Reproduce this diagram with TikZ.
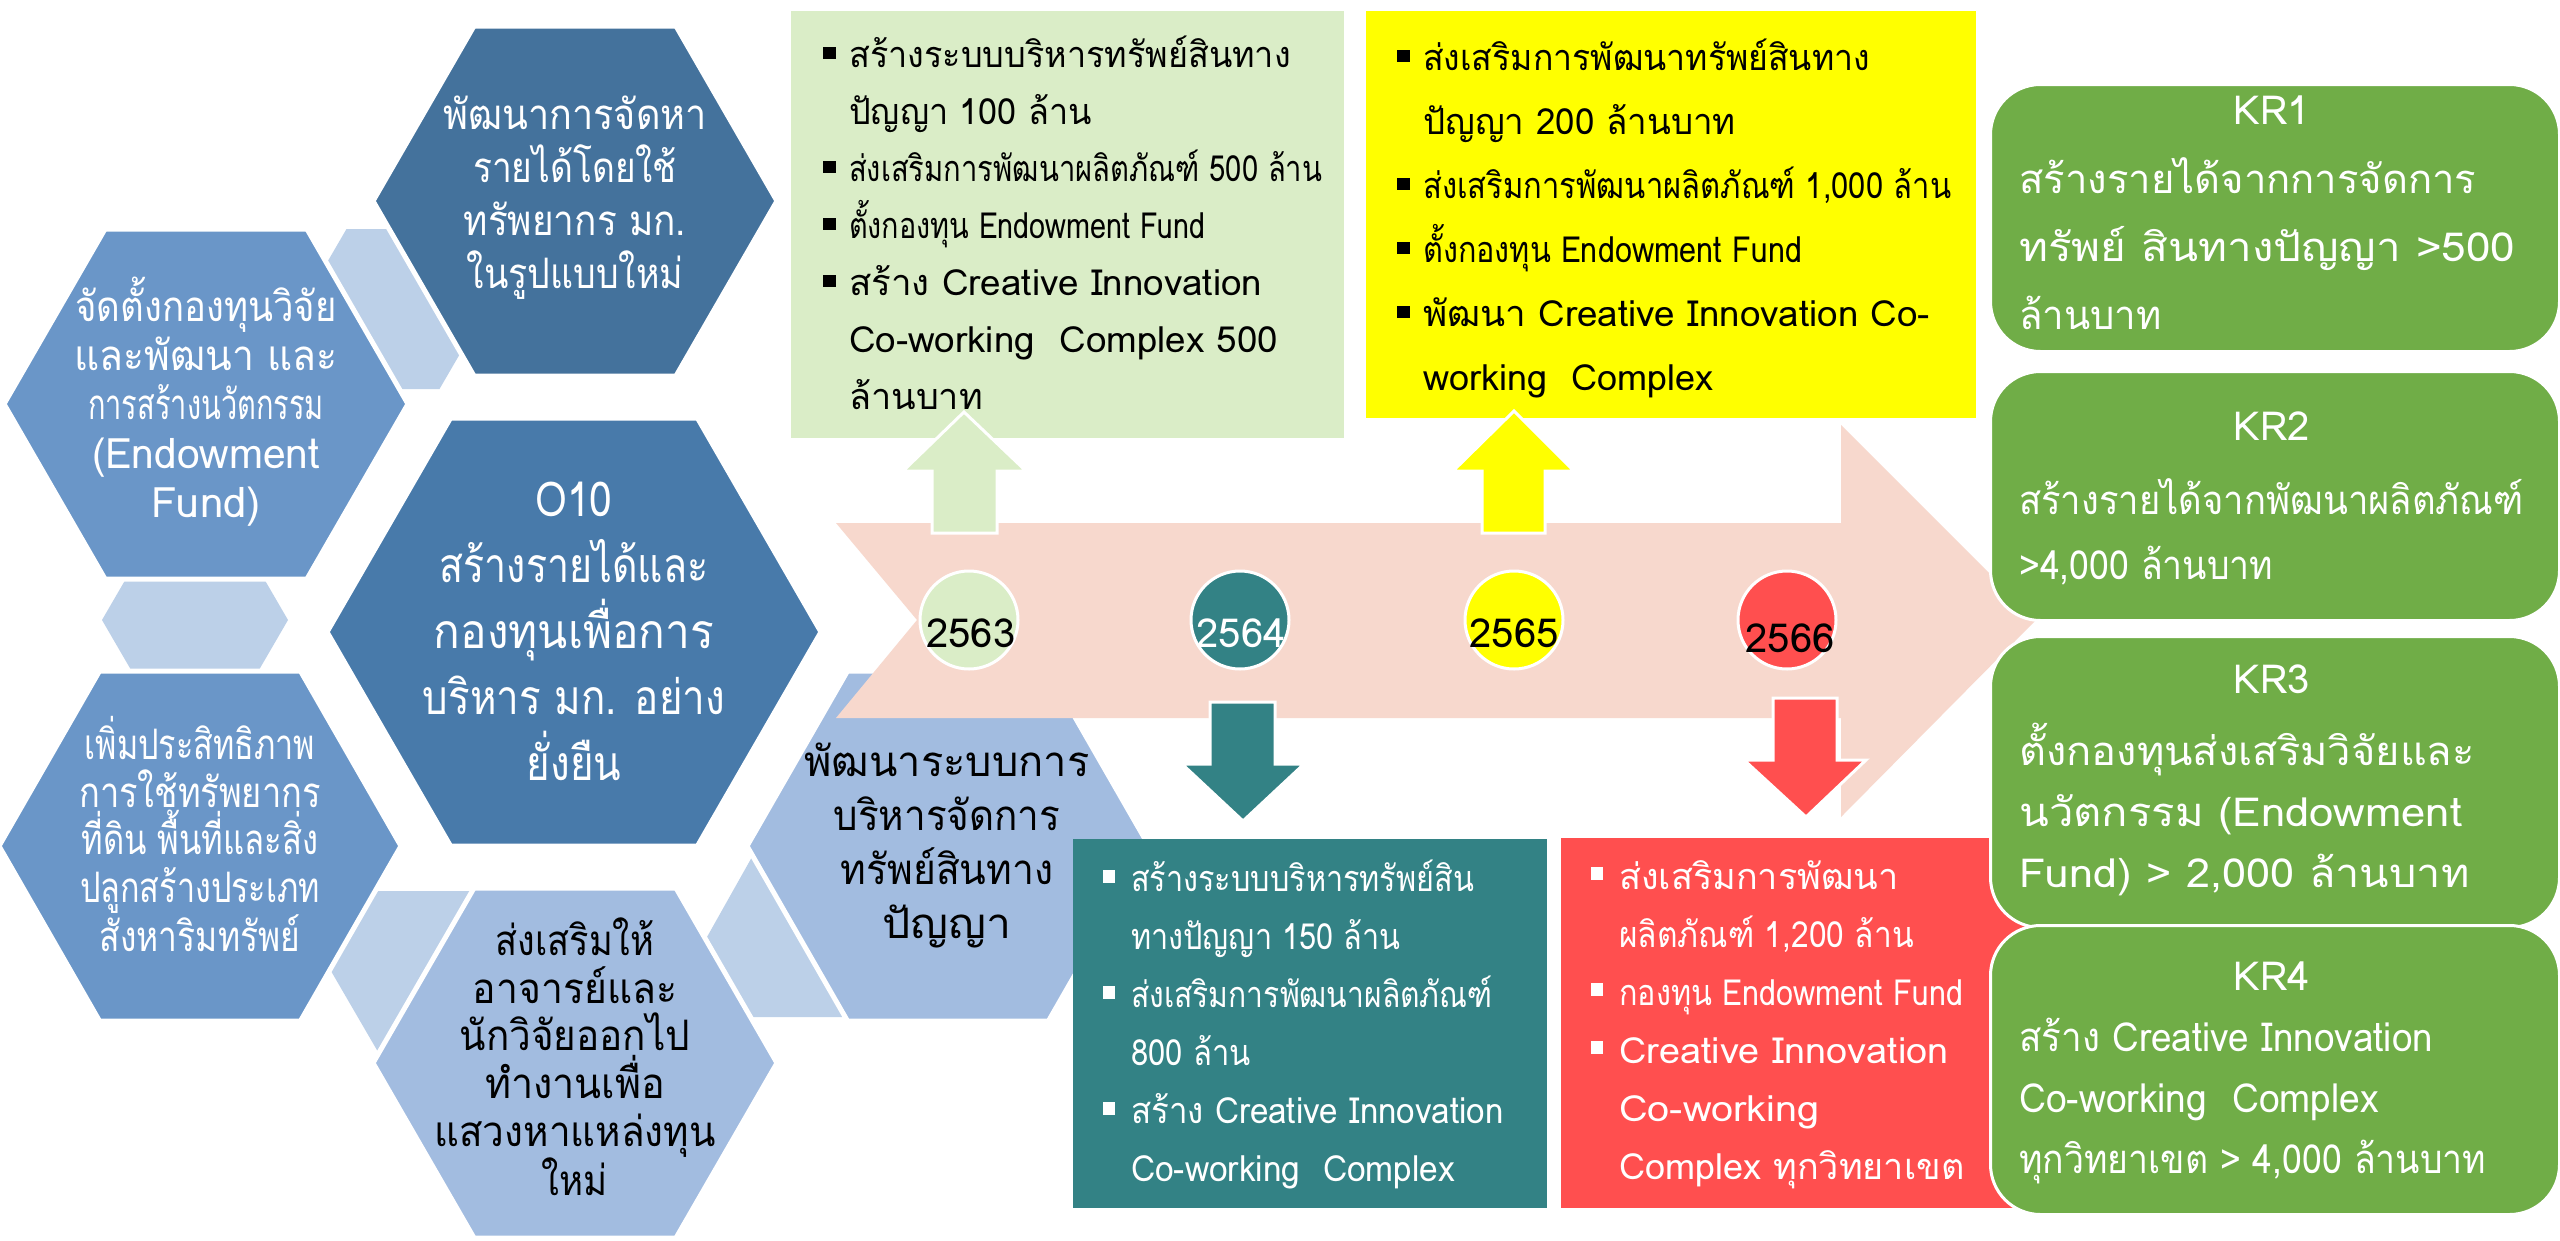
\documentclass[tikz,border=0pt]{standalone}
\usepackage{fontspec}
\usepackage{graphicx}
\newfontfamily\thai[Script=Thai]{Loma}
\definecolor{hexdark}{RGB}{68,114,156}
\definecolor{hexoten}{RGB}{72,122,170}
\definecolor{hexmid}{RGB}{106,150,200}
\definecolor{hexlight}{RGB}{162,188,224}
\definecolor{hexpale}{RGB}{188,208,232}
\definecolor{pinkarrow}{RGB}{247,216,205}
\definecolor{palegreen}{RGB}{218,237,199}
\definecolor{yel}{RGB}{255,255,0}
\definecolor{tealc}{RGB}{51,130,133}
\definecolor{redc}{RGB}{255,79,79}
\definecolor{krgreen}{RGB}{112,173,71}
\newcommand{\myhex}[5]{\filldraw[#5] ({#1-#3},#2) -- ({#1-#3/2},{#2-#4}) -- ({#1+#3/2},{#2-#4}) -- ({#1+#3},#2) -- ({#1+#3/2},{#2+#4}) -- ({#1-#3/2},{#2+#4}) -- cycle;}
\newcommand{\blt}{\llap{\rule[9pt]{13pt}{12pt}\hspace{13pt}}}
\newcommand{\bltw}{\llap{\textcolor{white}{\rule[9pt]{12pt}{13pt}}\hspace{16pt}}}
\newcommand{\sx}[2]{\scalebox{#1}[1]{#2}}
\tikzset{
  mainhex/.style={draw=white, line width=5pt, line join=miter},
  palehex/.style={fill=hexpale, draw=none},
  hextext/.style={align=center, inner sep=0pt},
  boxtext/.style={align=left, inner sep=0pt, anchor=north west},
  blockarrow/.style={draw=white, line width=3pt, line join=miter},
  yearcircle/.style={circle, minimum size=98pt, draw=white, line width=3pt, inner sep=0pt},
  yeartext/.style={inner sep=0pt, font=\thai\fontsize{40}{44}\selectfont},
  krbox/.style={rectangle, rounded corners=50pt, draw=white, line width=3pt, fill=krgreen, inner sep=0pt, anchor=north west},
  krlabel/.style={inner sep=0pt, text=white, font=\thai\fontsize{40}{48}\selectfont},
  krtext/.style={align=left, inner sep=0pt, anchor=north west, text=white},
}
\begin{document}
\begin{tikzpicture}[x=1pt,y=-1pt]
\useasboundingbox[fill=white] (0,0) rectangle (2560,1240);
% pale connector hexagons
\myhex{393}{309}{93}{80}{palehex}
\myhex{195}{620}{93}{80}{palehex}
\myhex{424}{971}{93}{80}{palehex}
\myhex{797}{937}{90}{80}{palehex}
% main hexagons
\myhex{575}{201}{202}{175}{mainhex, fill=hexdark}
\myhex{206}{404}{202}{175}{mainhex, fill=hexmid}
\myhex{574}{632}{247}{214}{mainhex, fill=hexoten}
\myhex{200}{846}{201}{175}{mainhex, fill=hexmid}
\myhex{575}{1063}{202}{175}{mainhex, fill=hexlight}
\myhex{948}{846}{201}{175}{mainhex, fill=hexlight}
% hexagon texts
\node[hextext, text=white, font=\thai\fontsize{42}{53}\selectfont] (tT) at (575,198) {\sx{0.9}{พัฒนาการจัดหา}\\\sx{0.84}{รายได้โดยใช้}\\\sx{0.88}{ทรัพยากร มก.}\\\sx{0.85}{ในรูปแบบใหม่}};
\node[hextext, text=white, font=\thai\fontsize{42}{49}\selectfont] (tL) at (206,402) {\sx{0.87}{จัดตั้งกองทุนวิจัย}\\\sx{0.93}{และพัฒนา และ}\\\sx{0.69}{การสร้างนวัตกรรม}\\\sx{0.97}{(Endowment}\\Fund)};
\node[hextext, text=white, font=\thai\fontsize{48}{66}\selectfont] (tO) at (574,631) {\sx{0.85}{O10}\\\sx{0.82}{สร้างรายได้และ}\\\sx{0.92}{กองทุนเพื่อการ}\\\sx{0.84}{บริหาร มก. อย่าง}\\\sx{0.84}{ยั่งยืน}};
\node[hextext, text=white, font=\thai\fontsize{42}{47.5}\selectfont] (tBL) at (200,834) {\sx{0.77}{เพิ่มประสิทธิภาพ}\\\sx{0.82}{การใช้ทรัพยากร}\\\sx{0.78}{ที่ดิน พื้นที่และสิ่ง}\\\sx{0.77}{ปลูกสร้างประเภท}\\\sx{0.8}{สังหาริมทรัพย์}};
\node[hextext, text=black, font=\thai\fontsize{42}{47.6}\selectfont] (tBC) at (575,1057) {\sx{0.86}{ส่งเสริมให้}\\\sx{0.93}{อาจารย์และ}\\\sx{0.92}{นักวิจัยออกไป}\\\sx{0.94}{ทำงานเพื่อ}\\\sx{0.92}{แสวงหาแหล่งทุน}\\\sx{0.87}{ใหม่}};
% pink timeline arrow
\fill[pinkarrow] (836,523) -- (1841,523) -- (1841,425) -- (2036,620) -- (1841,817) -- (1841,718) -- (836,718) -- (917,620) -- cycle;
% right hex text
\node[hextext, text=black, font=\thai\fontsize{42}{54}\selectfont] (tR) at (947,845) {\sx{0.99}{พัฒนาระบบการ}\\\sx{0.92}{บริหารจัดการ}\\\sx{0.93}{ทรัพย์สินทาง}\\\sx{1.06}{ปัญญา}};
% top boxes
\node[rectangle, fill=palegreen, minimum width=553pt, minimum height=427pt, inner sep=0pt, anchor=north west] (bx1) at (791,11) {};
\node[rectangle, fill=yel, minimum width=610pt, minimum height=407pt, inner sep=0pt, anchor=north west] (bx3) at (1366,11) {};
\node[boxtext, font=\thai\fontsize{36}{57}\selectfont] (tx1) at (849,36) {\blt\sx{0.95}{สร้างระบบบริหารทรัพย์สินทาง}\\\sx{0.95}{ปัญญา 100 ล้าน}\\\blt\sx{0.81}{ส่งเสริมการพัฒนาผลิตภัณฑ์ 500 ล้าน}\\\blt\sx{0.8}{ตั้งกองทุน Endowment Fund}\\\blt\sx{1.02}{สร้าง Creative Innovation}\\\sx{1.02}{Co-working\ \ Complex 500}\\ล้านบาท};
\node[boxtext, font=\thai\fontsize{36}{64}\selectfont] (tx3) at (1423,39) {\blt\sx{0.94}{ส่งเสริมการพัฒนาทรัพย์สินทาง}\\\sx{0.97}{ปัญญา 200 ล้านบาท}\\\blt\sx{0.86}{ส่งเสริมการพัฒนาผลิตภัณฑ์ 1,000 ล้าน}\\\blt\sx{0.85}{ตั้งกองทุน Endowment Fund}\\\blt\sx{1.02}{พัฒนา Creative Innovation Co-}\\working\ \ Complex};
% bottom boxes
\node[rectangle, fill=tealc, minimum width=474pt, minimum height=369pt, inner sep=0pt, anchor=north west] (bx2) at (1073,839) {};
\node[rectangle, fill=redc, minimum width=465pt, minimum height=370pt, inner sep=0pt, anchor=north west] (bx4) at (1561,838) {};
\node[boxtext, text=white, font=\thai\fontsize{36}{58}\selectfont] (tx2) at (1131,860) {\bltw\sx{0.85}{สร้างระบบบริหารทรัพย์สิน}\\\sx{0.85}{ทางปัญญา 150 ล้าน}\\\bltw\sx{0.835}{ส่งเสริมการพัฒนาผลิตภัณฑ์}\\\sx{0.86}{800 ล้าน}\\\bltw\sx{0.92}{สร้าง Creative Innovation}\\\sx{0.93}{Co-working\ \ Complex}};
\node[boxtext, text=white, font=\thai\fontsize{36}{58}\selectfont] (tx4) at (1619,860) {\bltw\sx{1.0}{ส่งเสริมการพัฒนา}\\\sx{0.88}{ผลิตภัณฑ์ 1,200 ล้าน}\\\bltw\sx{0.85}{กองทุน Endowment Fund}\\\bltw\sx{1.05}{Creative Innovation}\\\sx{1.1}{Co-working}\\Complex ทุกวิทยาเขต};
% block arrows
\filldraw[blockarrow, fill=palegreen] (932,533) -- (932,471) -- (903,471) -- (964,412) -- (1026,471) -- (997,471) -- (997,533) -- cycle;
\filldraw[blockarrow, fill=yel] (1482,533) -- (1482,471) -- (1453,471) -- (1514,411) -- (1574,471) -- (1545,471) -- (1545,533) -- cycle;
\filldraw[blockarrow, fill=tealc] (1210,702) -- (1275,702) -- (1275,764) -- (1304,764) -- (1243,821) -- (1182,764) -- (1210,764) -- cycle;
\filldraw[blockarrow, fill=redc] (1773,698) -- (1837,698) -- (1837,760) -- (1866,760) -- (1806,817) -- (1744,760) -- (1773,760) -- cycle;
% year circles
\node[yearcircle, fill=palegreen] (c1) at (969,620) {};
\node[yearcircle, fill=tealc] (c2) at (1240,620) {};
\node[yearcircle, fill=yel] (c3) at (1514,620) {};
\node[yearcircle, fill=redc] (c4) at (1787,620) {};
\node[yeartext] (y1) at (971,633) {2563};
\node[yeartext, text=white] (y2) at (1241,633) {2564};
\node[yeartext] (y3) at (1514,633) {2565};
\node[yeartext] (y4) at (1790,638) {2566};
% KR boxes
\node[krbox, minimum width=569pt, minimum height=267pt] (kr1) at (1989,83) {};
\node[krbox, minimum width=569pt, minimum height=249pt] (kr2) at (1989,370) {};
\node[krbox, minimum width=569pt, minimum height=291pt] (kr3) at (1989,635) {};
\node[krbox, minimum width=569pt, minimum height=289pt] (kr4) at (1989,924) {};
\node[krlabel] (k1) at (2272,110) {KR1};
\node[krlabel] (k2) at (2272,426) {KR2};
\node[krlabel] (k3) at (2272,679) {KR3};
\node[krlabel] (k4) at (2272,976) {KR4};
\node[krtext, font=\thai\fontsize{40}{68}\selectfont] (kt1) at (2019,157) {สร้างรายได้จากการจัดการ\\\sx{1.1}{ทรัพย์ สินทางปัญญา >500}\\\sx{0.96}{ล้านบาท}};
\node[krtext, font=\thai\fontsize{40}{65}\selectfont] (kt2) at (2019,478) {\sx{0.91}{สร้างรายได้จากพัฒนาผลิตภัณฑ์}\\\sx{0.89}{>4,000 ล้านบาท}};
\node[krtext, font=\thai\fontsize{40}{61}\selectfont] (kt3) at (2019,723) {\sx{1.04}{ตั้งกองทุนส่งเสริมวิจัยและ}\\\sx{1.09}{นวัตกรรม (Endowment}\\\sx{1.08}{Fund) > 2,000 ล้านบาท}};
\node[krtext, font=\thai\fontsize{40}{61}\selectfont] (kt4) at (2019,1018) {\sx{0.92}{สร้าง Creative Innovation}\\\sx{0.93}{Co-working\ \ Complex}\\\sx{0.89}{ทุกวิทยาเขต > 4,000 ล้านบาท}};
\end{tikzpicture}
\end{document}
